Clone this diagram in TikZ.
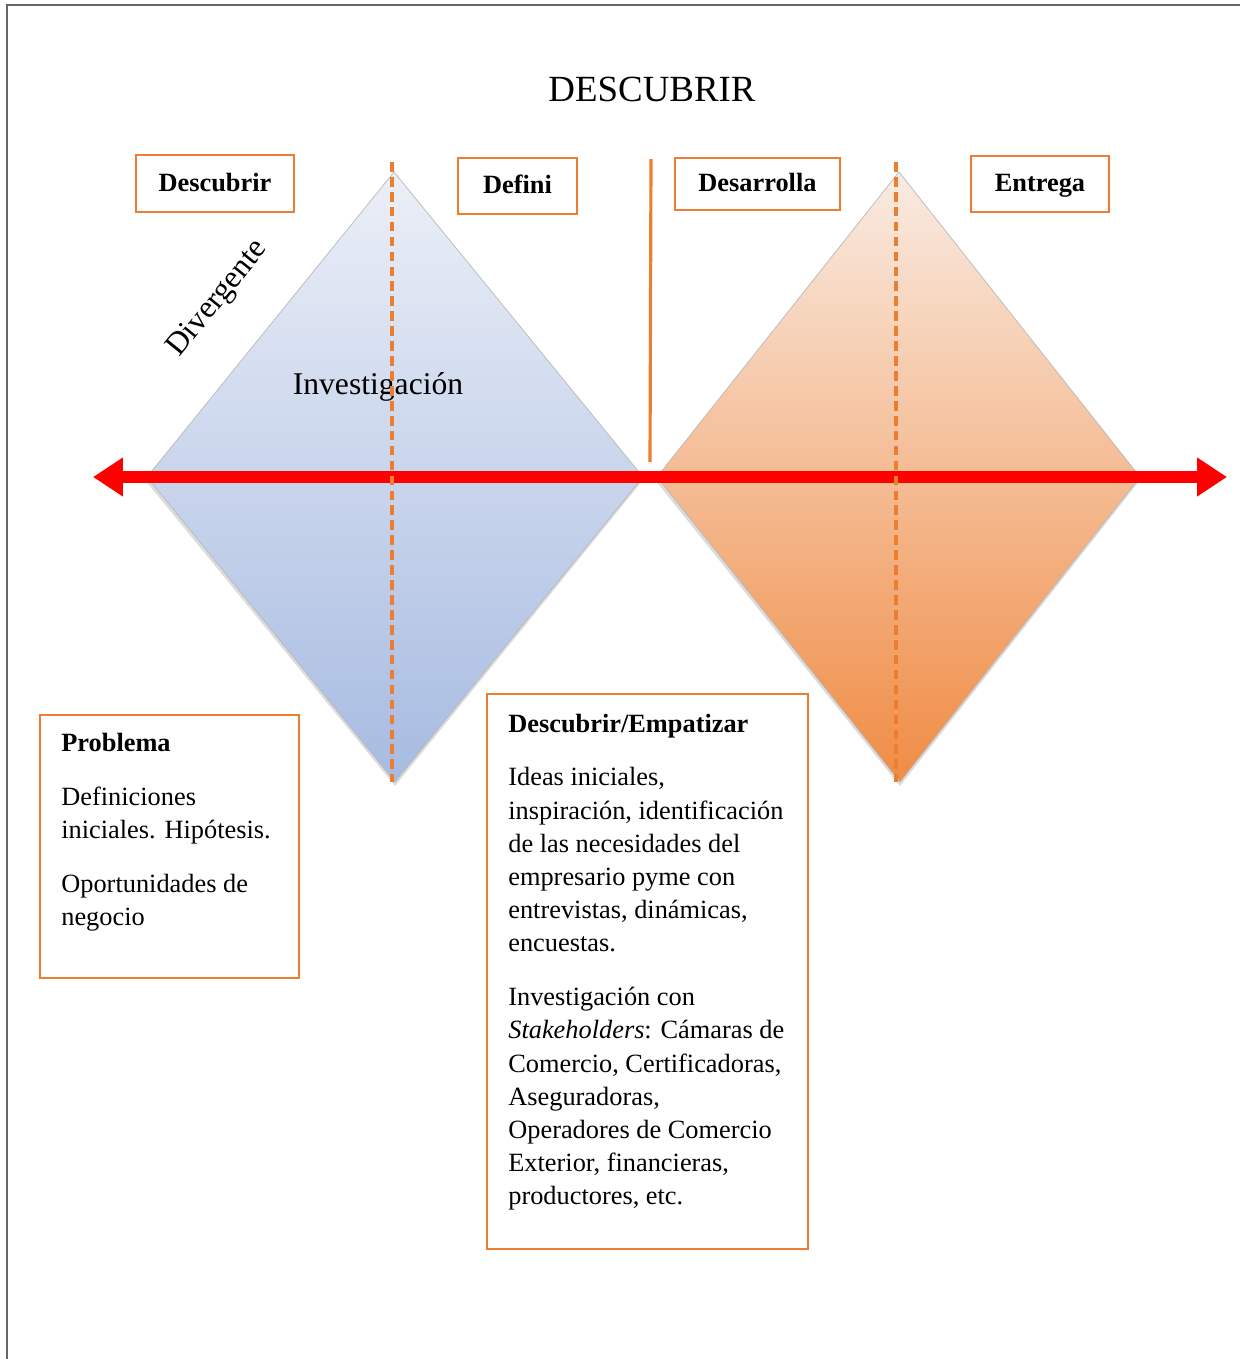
\documentclass[tikz,border=0pt]{standalone}
\usepackage{fontspec}
\setmainfont{Liberation Serif}
\usepackage{tikz}
\usetikzlibrary{positioning,calc,arrows.meta}
\definecolor{naranja}{HTML}{ED7D31}
\definecolor{azul1}{HTML}{EBEFF7}
\definecolor{azul2}{HTML}{C4D1EB}
\definecolor{azul3}{HTML}{A7BBE1}
\definecolor{nar1}{HTML}{F9EBE2}
\definecolor{nar2}{HTML}{F2C09D}
\definecolor{nar3}{HTML}{F08C45}

\begin{document}
\begin{tikzpicture}[x=0.02cm,y=-0.02cm,
					etiqueta/.style={draw=naranja,line width=1.4pt,fill=white,inner sep=0pt,text height=11pt,text depth=2pt,font=\fontsize{15}{18}\selectfont\bfseries},
					caja/.style={draw=naranja,line width=1.4pt,fill=white,inner sep=0pt},
					texto/.style={anchor=north west,align=left,inner sep=0pt,font=\fontsize{15}{18.9}\selectfont},
					eje/.style={naranja,line width=2.1pt,dash pattern=on 5.5pt off 3pt}]
					\useasboundingbox (0,0) rectangle (1240,1359);
					
					%MARCO
					\draw[gray!80!black,line width=0.9pt] (7,1359) -- (7,5) -- (1240,5);
					
					%TITULO
					\node[font=\fontsize{21}{24}\selectfont] (T) at (652,89) {DESCUBRIR};
					
					%ROMBO 1
					\coordinate (A_1) at (394,172);
					\coordinate (B_1) at (643,477);
					\coordinate (C_1) at (395,782);
					\coordinate (D_1) at (147,477);
					\fill[gray!55,opacity=0.5] ($(A_1)+(-1,3)$) -- ($(B_1)+(0,3)$) -- ($(C_1)+(0,4)$) -- ($(D_1)+(-2,3)$) -- cycle;
					\shade[top color=azul1,middle color=azul2,bottom color=azul3,draw=gray!55,line width=0.4pt]
						(A_1) -- (B_1) -- (C_1) -- (D_1) -- cycle;
					
					%ROMBO 2
					\coordinate (A_2) at (899,172);
					\coordinate (B_2) at (1140,477);
					\coordinate (C_2) at (900,782);
					\coordinate (D_2) at (657,477);
					\fill[gray!55,opacity=0.5] ($(A_2)+(-1,3)$) -- ($(B_2)+(0,3)$) -- ($(C_2)+(0,4)$) -- ($(D_2)+(-2,3)$) -- cycle;
					\shade[top color=nar1,middle color=nar2,bottom color=nar3,draw=gray!55,line width=0.4pt]
						(A_2) -- (B_2) -- (C_2) -- (D_2) -- cycle;
					
					%TEXTOS DEL ROMBO
					\node[rotate=51,font=\fontsize{18}{20}\selectfont] (dv) at (218,299) {Divergente};
					\node[anchor=base,font=\fontsize{18}{20}\selectfont] (inv) at (378,394) {Investigación};
					
					%FLECHA
					\coordinate (F_1) at (93,477);
					\coordinate (F_2) at (1227,477);
					\draw[red,line width=6.8pt,{Triangle[length=0.6cm,width=0.74cm]}-{Triangle[length=0.6cm,width=0.74cm]}] (F_1) -- (F_2);
					
					%EJES
					\coordinate (E_1) at (392,162);
					\coordinate (E_2) at (896,162);
					\draw[eje] (E_1) -- (392,782);
					\draw[eje] (E_2) -- (896,782);
					\coordinate (M) at (651,159);
					\draw[naranja,line width=1.8pt] (M) -- (650,462);
					
					%ETIQUETAS
					\node[etiqueta,minimum width=3.16cm,minimum height=1.14cm] (d) at (215,183.5) {Descubrir};
					\node[etiqueta,minimum width=2.38cm,minimum height=1.12cm] (df) at (517.5,186) {Defini};
					\node[etiqueta,minimum width=3.3cm,minimum height=1.04cm] (ds) at (757.5,184) {Desarrolla};
					\node[etiqueta,minimum width=2.76cm,minimum height=1.12cm] (en) at (1040,184) {Entrega};
					
					%CAJA PROBLEMA
					\node[caja,minimum width=5.18cm,minimum height=5.26cm] (P) at (169.5,846.5) {};
					\node[texto] (pt) at (61,733) {\textbf{Problema}\\[11.7pt]
						Definiciones\\
						iniciales. Hipótesis.\\[11.7pt]
						Oportunidades de\\
						negocio};
					
					%CAJA EMPATIZAR
					\node[caja,minimum width=6.42cm,minimum height=11.1cm] (Q) at (647.5,971.5) {};
					\node[texto] (qt) at (508,713.5) {\textbf{Descubrir/Empatizar}\\[11.7pt]
						Ideas iniciales,\\
						inspiración, identificación\\
						de las necesidades del\\
						empresario pyme con\\
						entrevistas, dinámicas,\\
						encuestas.\\[11.7pt]
						Investigación con\\
						\textit{Stakeholders}: Cámaras de\\
						Comercio, Certificadoras,\\
						Aseguradoras,\\
						Operadores de Comercio\\
						Exterior, financieras,\\
						productores, etc.};
				  \end{tikzpicture}
\end{document}
